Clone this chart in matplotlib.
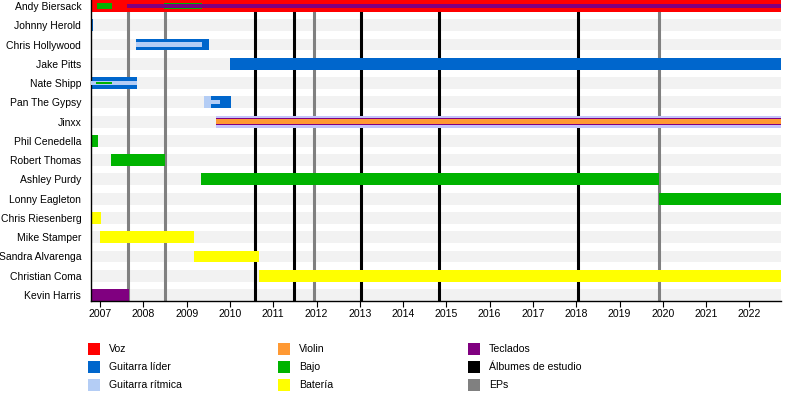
import matplotlib
matplotlib.use('Agg')
import matplotlib.pyplot as plt
from matplotlib.patches import Rectangle

plt.rcParams['font.family'] = ['Liberation Sans', 'DejaVu Sans']

# timeline limits (decimal years)
START = 2006.79
END = 2022.73

members = ['Andy Biersack', 'Johnny Herold', 'Chris Hollywood', 'Jake Pitts',
           'Nate Shipp', 'Pan The Gypsy', 'Jinxx', 'Phil Cenedella',
           'Robert Thomas', 'Ashley Purdy', 'Lonny Eagleton', 'Chris Riesenberg',
           'Mike Stamper', 'Sandra Alvarenga', 'Christian Coma', 'Kevin Harris']

role_colors = {
    'voz': '#ff0000',
    'lider': '#0066cc',
    'ritmica': '#b4cdf5',
    'violin': '#ff9933',
    'bajo': '#00b300',
    'bateria': '#ffff00',
    'teclados': '#800080',
    'jinxx': '#c4c4fa',
}

# (member, role, start, end, layer) ; layer 0 = full bar, others = inner stripes
periods = [
    ('Andy Biersack', 'voz', START, END, 0),
    ('Andy Biersack', 'bajo', 2006.93, 2007.28, 1),
    ('Andy Biersack', 'bajo', 2008.48, 2009.36, 1),
    ('Andy Biersack', 'teclados', 2007.62, END, 2),
    ('Johnny Herold', 'lider', START, 2006.84, 0),
    ('Chris Hollywood', 'lider', 2007.83, 2009.52, 0),
    ('Chris Hollywood', 'ritmica', 2007.83, 2009.35, 2),
    ('Jake Pitts', 'lider', 2010.0, END, 0),
    ('Nate Shipp', 'lider', START, 2007.85, 0),
    ('Nate Shipp', 'ritmica', START, 2007.85, 2),
    ('Nate Shipp', 'bajo', 2006.91, 2007.28, 3),
    ('Pan The Gypsy', 'ritmica', 2009.39, 2009.56, 0),
    ('Pan The Gypsy', 'lider', 2009.56, 2010.02, 0),
    ('Pan The Gypsy', 'ritmica', 2009.56, 2009.78, 2),
    ('Jinxx', 'jinxx', 2009.68, END, 0),
    ('Jinxx', 'teclados', 2009.68, END, 4),
    ('Jinxx', 'violin', 2009.68, END, 2),
    ('Phil Cenedella', 'bajo', START, 2006.95, 0),
    ('Robert Thomas', 'bajo', 2007.25, 2008.5, 0),
    ('Ashley Purdy', 'bajo', 2009.33, 2019.91, 0),
    ('Lonny Eagleton', 'bajo', 2019.91, END, 0),
    ('Chris Riesenberg', 'bateria', START, 2007.02, 0),
    ('Mike Stamper', 'bateria', 2007.0, 2009.17, 0),
    ('Sandra Alvarenga', 'bateria', 2009.17, 2010.68, 0),
    ('Christian Coma', 'bateria', 2010.66, END, 0),
    ('Kevin Harris', 'teclados', START, 2007.67, 0),
]

albums = [2010.57, 2011.47, 2013.03, 2014.84, 2018.03]
eps = [2007.65, 2008.49, 2011.95, 2019.92]

years = list(range(2007, 2023))

legend_labels = ['Voz', 'Guitarra líder', 'Guitarra rítmica',
                 'Violin', 'Bajo', 'Batería',
                 'Teclados', 'Álbumes de estudio', 'EPs']
legend_colors = ['#ff0000', '#0066cc', '#b4cdf5',
                 '#ff9933', '#00b300', '#ffff00',
                 '#800080', '#000000', '#808080']

W, H = 800, 395
fig = plt.figure(figsize=(8, 3.95), dpi=100)
ax = fig.add_axes([91 / W, 1 - 301 / H, 690 / W, 301 / H])

bar_h = 0.62
layer_h = {0: bar_h, 1: 0.32, 2: 0.22, 3: 0.12, 4: 0.38}
n = len(members)
ypos = {m: i for i, m in enumerate(members)}

# background stripes
ax.barh(range(n), END - START, left=START, height=bar_h, color='#f2f2f2',
        zorder=0, linewidth=0)

for x in eps:
    ax.axvline(x, color='#808080', lw=2.2, zorder=1)
for x in albums:
    ax.axvline(x, color='#000000', lw=2.2, zorder=1)

order = {0: 0, 4: 1, 1: 2, 2: 3, 3: 4}
for m, role, s, e, layer in sorted(periods, key=lambda p: order[p[4]]):
    ax.barh(ypos[m], e - s, left=s, height=layer_h[layer],
            color=role_colors[role], linewidth=0, zorder=2 + order[layer])

ax.set_xlim(START, END)
ax.set_ylim(n - 1 + 0.31, -0.31)
ax.set_yticks(range(n))
ax.set_yticklabels(members, fontsize=7.5)
ax.tick_params(axis='y', length=0, pad=7)
ax.set_xticks(years)
ax.set_xticklabels([str(y) for y in years], fontsize=7.6)
ax.tick_params(axis='x', length=4, width=0.8, pad=2)
for side in ['top', 'right']:
    ax.spines[side].set_visible(False)
for side in ['left', 'bottom']:
    ax.spines[side].set_linewidth(1.0)

# legend
col_x = [88, 278, 468]
row_y = [349, 367, 385]
for k, (lab, col) in enumerate(zip(legend_labels, legend_colors)):
    cx = col_x[k // 3]
    cy = row_y[k % 3]
    fig.add_artist(Rectangle((cx / W, 1 - (cy + 6) / H), 12 / W, 12 / H,
                             transform=fig.transFigure, color=col, lw=0))
    fig.text((cx + 21) / W, 1 - cy / H, lab, fontsize=7.6, va='center', ha='left')

fig.savefig('out.png', dpi=100)
